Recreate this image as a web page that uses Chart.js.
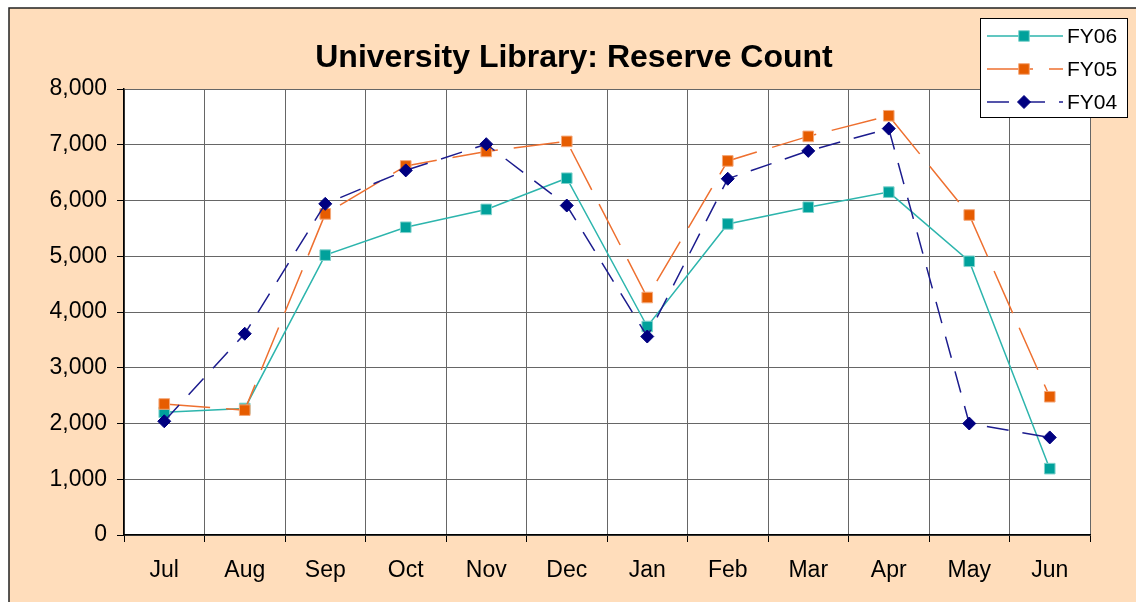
<!DOCTYPE html>
<html>
<head>
<meta charset="utf-8">
<script src="https://cdn.jsdelivr.net/npm/chart.js@4.4.1/dist/chart.umd.min.js"></script>
<style>
html,body{margin:0;padding:0;background:#fff;}
canvas{display:block;}
</style>
</head>
<body>
<canvas id="c" width="1136" height="602"></canvas>
<script>
const months = ['Jul','Aug','Sep','Oct','Nov','Dec','Jan','Feb','Mar','Apr','May','Jun'];
const fy06 = [2200, 2270, 5020, 5520, 5840, 6400, 3740, 5580, 5880, 6150, 4910, 1190];
const fy05 = [2350, 2240, 5760, 6620, 6880, 7060, 4260, 6710, 7150, 7520, 5740, 2480];
const fy04 = [2040, 3610, 5940, 6540, 7010, 5910, 3560, 6390, 6890, 7290, 2000, 1750];
const seriesNames = ['FY06', 'FY05', 'FY04'];
const chartTitle = 'University Library: Reserve Count';

const FONT = "'Liberation Sans', Arial, sans-serif";
const PEACH = '#FFDDBB';

const framePlugin = {
  id: 'frame',
  beforeDraw(chart) {
    const ctx = chart.ctx;
    ctx.save();
    ctx.fillStyle = '#ffffff';
    ctx.fillRect(0, 0, chart.width, chart.height);
    ctx.fillStyle = PEACH;
    ctx.fillRect(9, 8, chart.width - 9, chart.height - 8);
    ctx.strokeStyle = '#222';
    ctx.lineWidth = 1.5;
    ctx.beginPath();
    ctx.moveTo(9, chart.height);
    ctx.lineTo(9, 8);
    ctx.lineTo(chart.width, 8);
    ctx.stroke();
    const a = chart.chartArea;
    ctx.fillStyle = '#ffffff';
    ctx.fillRect(a.left, a.top, a.right - a.left, a.bottom - a.top);
    // chart title
    ctx.fillStyle = '#000';
    ctx.font = 'bold 32px ' + FONT;
    ctx.textAlign = 'center';
    ctx.textBaseline = 'middle';
    ctx.fillText(chartTitle, 574, 58);
    ctx.restore();
  }
};

function drawMarker(ctx, style, x, y, r, fill, border) {
  ctx.save();
  ctx.setLineDash([]);
  ctx.fillStyle = fill;
  ctx.strokeStyle = border;
  ctx.lineWidth = 1;
  ctx.beginPath();
  if (style === 'rect') {
    const s = Math.SQRT1_2 * r;
    ctx.rect(x - s, y - s, 2 * s, 2 * s);
  } else {
    ctx.moveTo(x - r, y);
    ctx.lineTo(x, y - r);
    ctx.lineTo(x + r, y);
    ctx.lineTo(x, y + r);
    ctx.closePath();
  }
  ctx.fill();
  ctx.stroke();
  ctx.restore();
}

const legendPlugin = {
  id: 'boxLegend',
  afterDraw(chart) {
    const ctx = chart.ctx;
    ctx.save();
    ctx.fillStyle = '#ffffff';
    ctx.fillRect(980, 18, 147, 99);
    ctx.strokeStyle = '#000';
    ctx.lineWidth = 1;
    ctx.strokeRect(980.5, 18.5, 147, 99);
    const ys = [36, 69, 102];
    chart.data.datasets.forEach((ds, i) => {
      const y = ys[i];
      ctx.save();
      ctx.strokeStyle = ds.borderColor;
      ctx.lineWidth = ds.borderWidth;
      ctx.setLineDash(ds.borderDash || []);
      ctx.beginPath();
      ctx.moveTo(987, y);
      ctx.lineTo(1063, y);
      ctx.stroke();
      ctx.restore();
      drawMarker(ctx, ds.pointStyle, 1024, y, ds.pointRadius, ds.pointBackgroundColor, ds.pointBorderColor);
      ctx.fillStyle = '#000';
      ctx.font = '21px ' + FONT;
      ctx.textBaseline = 'middle';
      ctx.textAlign = 'left';
      ctx.fillText(ds.label, 1067, y + 1);
    });
    ctx.restore();
  }
};

const chart = new Chart(document.getElementById('c'), {
  type: 'line',
  data: {
    labels: months,
    datasets: [
      {
        label: seriesNames[0], data: fy06, order: 2,
        borderColor: '#2DB5AD', borderWidth: 1.5, borderDash: [],
        pointStyle: 'rect', pointRadius: 7.5,
        pointBackgroundColor: '#00A19B', pointBorderColor: '#80D2CC', pointBorderWidth: 1,
        tension: 0, fill: false
      },
      {
        label: seriesNames[1], data: fy05, order: 1,
        borderColor: '#EE7030', borderWidth: 1.5, borderDash: [46, 16],
        pointStyle: 'rect', pointRadius: 7.5,
        pointBackgroundColor: '#E65C00', pointBorderColor: '#F4A87A', pointBorderWidth: 1,
        tension: 0, fill: false
      },
      {
        label: seriesNames[2], data: fy04, order: 0,
        borderColor: '#1C1C8E', borderWidth: 1.5, borderDash: [22, 14],
        pointStyle: 'rectRot', pointRadius: 6.5,
        pointBackgroundColor: '#000080', pointBorderColor: '#000080', pointBorderWidth: 1,
        tension: 0, fill: false
      }
    ]
  },
  options: {
    responsive: false,
    devicePixelRatio: 1,
    animation: false,
    layout: { padding: { left: 9, top: 89, right: 46, bottom: 0 } },
    plugins: {
      legend: { display: false },
      tooltip: { enabled: false },
      title: { display: false }
    },
    scales: {
      x: {
        offset: true,
        afterFit(s) { s.height = 67; },
        grid: { offset: true, color: '#666', lineWidth: 1, tickLength: 7, tickColor: '#000', drawOnChartArea: true },
        border: { color: '#000', width: 1.5 },
        ticks: { color: '#000', font: { family: FONT, size: 23 }, padding: 15, maxRotation: 0, autoSkip: false }
      },
      y: {
        min: 0, max: 8000,
        afterFit(s) { s.width = 115; },
        grid: { color: '#666', lineWidth: 1, tickLength: 7, tickColor: '#000' },
        border: { color: '#000', width: 1.5 },
        ticks: {
          stepSize: 1000, color: '#000', padding: 10,
          font: { family: FONT, size: 23 },
          callback: (v) => Number(v).toLocaleString('en-US')
        }
      }
    }
  },
  plugins: [framePlugin, legendPlugin]
});
</script>
</body>
</html>
